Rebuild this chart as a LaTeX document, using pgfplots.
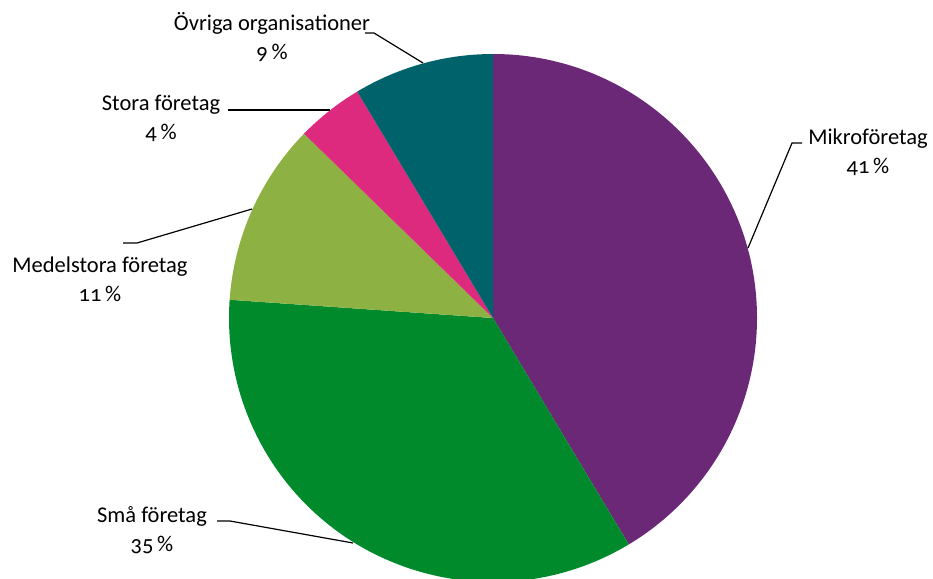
\documentclass[border=0pt]{standalone}
\usepackage{pgfplots}
\pgfplotsset{compat=1.18}
\usepackage{fontspec}
\setmainfont{Carlito}[Numbers=OldStyle]
\definecolor{cMikro}{HTML}{6A2877}
\definecolor{cSma}{HTML}{008A2B}
\definecolor{cMedel}{HTML}{8DB143}
\definecolor{cStora}{HTML}{DE2A7E}
\definecolor{cOvr}{HTML}{00626B}
\tikzset{lbl/.style={font=\fontsize{22.5}{29}\selectfont, align=center, inner sep=0pt}}
% shares in percent (unrounded, as read from the slices), clockwise from 12 o'clock
\def\pMikro{41.4}\def\pSma{34.7}\def\pMedel{11.2}\def\pStora{4.1}\def\pOvr{8.6}
\pgfmathsetmacro\aA{90}
\pgfmathsetmacro\aB{\aA-3.6*\pMikro}
\pgfmathsetmacro\aC{\aB-3.6*\pSma}
\pgfmathsetmacro\aD{\aC-3.6*\pMedel}
\pgfmathsetmacro\aE{\aD-3.6*\pStora}
\pgfmathsetmacro\aF{\aE-3.6*\pOvr}
\def\R{264pt}
\begin{document}
\begin{tikzpicture}
\path[use as bounding box] (0,0) rectangle (933pt,578pt);
\begin{axis}[
  at={(0,0)}, anchor=south west,
  scale only axis, width=933pt, height=578pt,
  xmin=0, xmax=933, ymin=0, ymax=578, y dir=reverse,
  hide axis, clip=true,
]
\addplot[fill=cMikro, draw=none] coordinates {(493,318)} -- ++(\aA:\R) arc[start angle=\aA, end angle=\aB, radius=\R] -- cycle;
\addplot[fill=cSma, draw=none] coordinates {(493,318)} -- ++(\aB:\R) arc[start angle=\aB, end angle=\aC, radius=\R] -- cycle;
\addplot[fill=cMedel, draw=none] coordinates {(493,318)} -- ++(\aC:\R) arc[start angle=\aC, end angle=\aD, radius=\R] -- cycle;
\addplot[fill=cStora, draw=none] coordinates {(493,318)} -- ++(\aD:\R) arc[start angle=\aD, end angle=\aE, radius=\R] -- cycle;
\addplot[fill=cOvr, draw=none] coordinates {(493,318)} -- ++(\aE:\R) arc[start angle=\aE, end angle=\aF, radius=\R] -- cycle;
% leader lines
\addplot[black, line width=1.2pt] coordinates {(365,33) (374,33) (423,63)};
\addplot[black, line width=1.2pt] coordinates {(228,110) (330,110)};
\addplot[black, line width=1.2pt] coordinates {(123,243) (137,243) (252,209)};
\addplot[black, line width=1.2pt] coordinates {(802,143) (792,143) (748,248)};
\addplot[black, line width=1.2pt] coordinates {(217,521) (230,521) (353,543)};
% labels
\node[lbl] at (axis cs:272,37.5) {Övriga organisationer\\9\,\%};
\node[lbl] at (axis cs:161,118.5) {Stora företag\\4\,\%};
\node[lbl] at (axis cs:100,279) {Medelstora företag\\11\,\%};
\node[lbl] at (axis cs:868,152) {Mikroföretag\\41\,\%};
\node[lbl] at (axis cs:152,530) {Små företag\\35\,\%};
\end{axis}
\end{tikzpicture}
\end{document}
